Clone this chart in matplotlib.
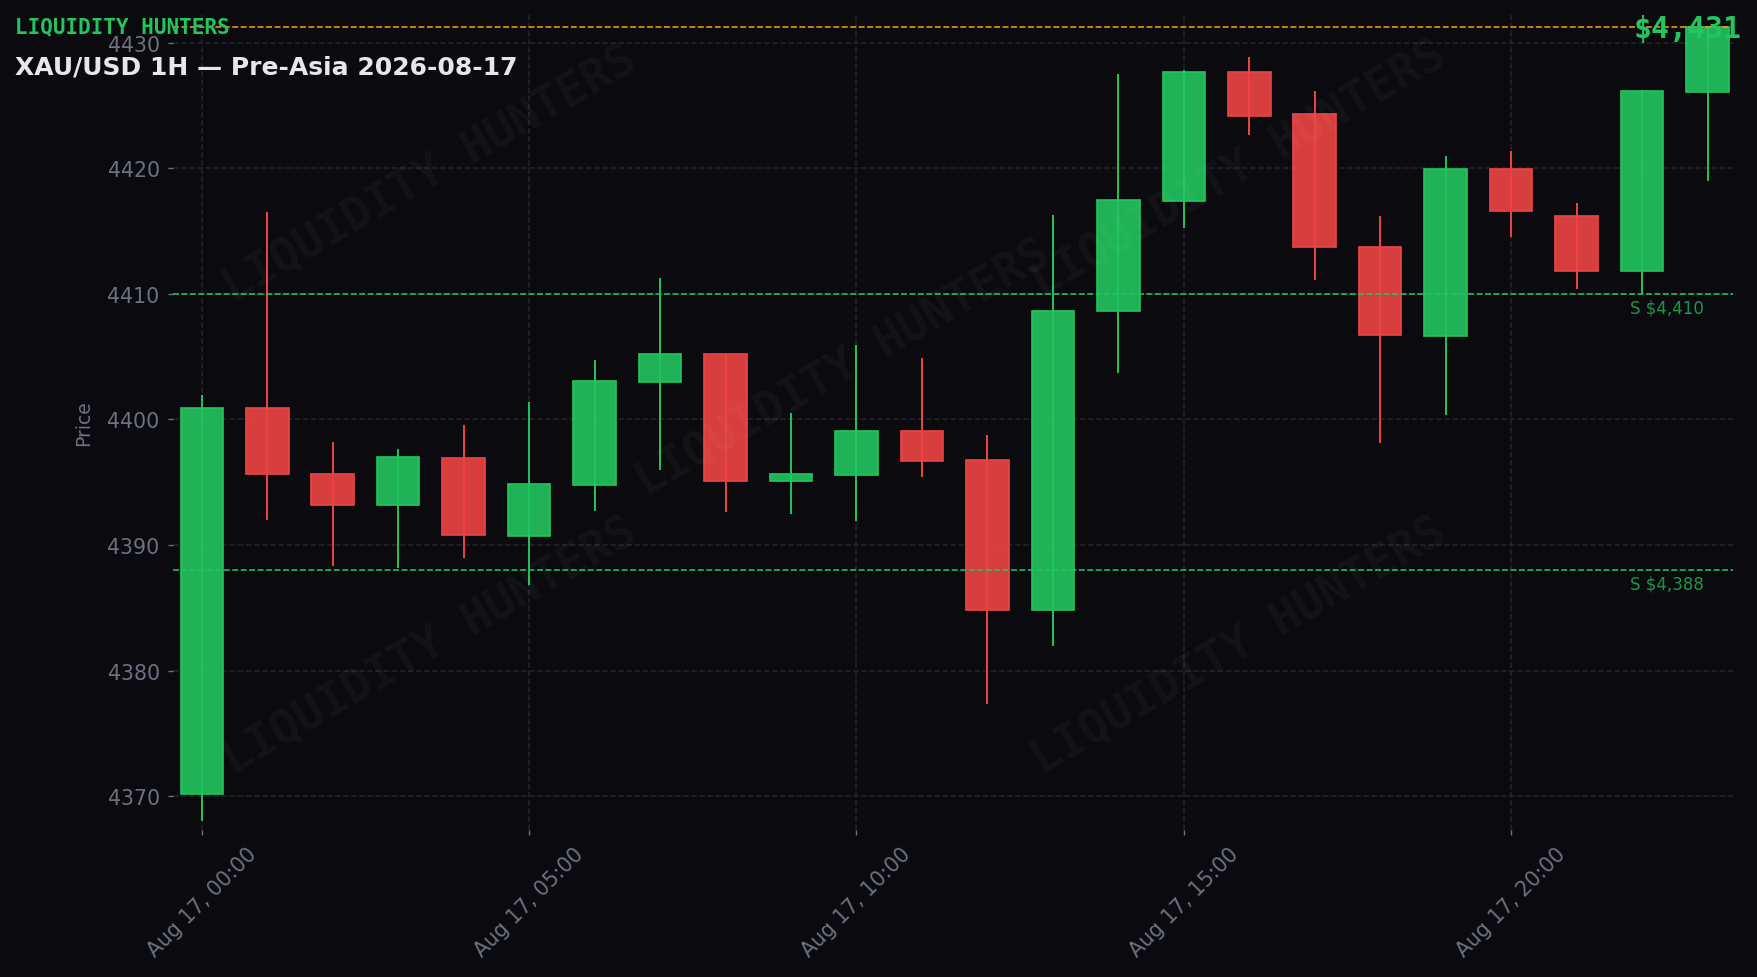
import matplotlib
matplotlib.use("Agg")
import matplotlib.pyplot as plt
import matplotlib.dates as mdates
import matplotlib.transforms as mtransforms
from matplotlib.colors import to_rgba
import pandas as pd
import numpy as np

# ---------------- data ----------------
times = pd.date_range("2026-08-17 00:00", periods=24, freq="h")
opens = [4370.20, 4400.93, 4395.67, 4393.15, 4396.95, 4390.70, 4394.75, 4403.00,
         4405.18, 4395.07, 4395.55, 4399.05, 4396.76, 4384.80, 4408.60, 4417.40,
         4427.64, 4424.30, 4413.75, 4406.65, 4419.92, 4416.17, 4411.80, 4426.10]
closes = [4400.93, 4395.62, 4393.15, 4397.03, 4390.77, 4394.83, 4403.05, 4405.18,
          4395.07, 4395.62, 4399.05, 4396.66, 4384.80, 4408.60, 4417.45, 4427.64,
          4424.14, 4413.70, 4406.70, 4419.96, 4416.57, 4411.79, 4426.15, 4431.25]
highs = [4401.94, 4416.50, 4398.20, 4397.64, 4399.55, 4401.38, 4404.73, 4411.26,
         4405.18, 4400.50, 4405.92, 4404.89, 4398.75, 4416.28, 4427.50, 4427.83,
         4428.86, 4426.15, 4416.20, 4420.98, 4421.37, 4417.23, 4426.23, 4431.25]
lows = [4368.06, 4392.00, 4388.34, 4388.18, 4388.98, 4386.83, 4392.72, 4395.99,
        4392.64, 4392.46, 4391.93, 4395.43, 4377.31, 4381.96, 4403.72, 4415.27,
        4422.65, 4411.10, 4398.14, 4400.37, 4414.55, 4410.38, 4409.98, 4419.00]
current_price = 4431.25
support_levels = [4410, 4388]
support_labels = ["S $4,410", "S $4,388"]
yticks = [4370, 4380, 4390, 4400, 4410, 4420, 4430]
title = "XAU/USD 1H \u2014 Pre-Asia 2026-08-17"
brand = "LIQUIDITY HUNTERS"
price_label = "$4,431"

# ---------------- style ----------------
BG = "#0b0b0f"
GREEN = "#22c55e"
RED = "#ef4444"
ORANGE = "#f59e0b"
GRAY = "#6b7280"
GRID = "#24242c"
MONO = "DejaVu Sans Mono"

fig = plt.figure(figsize=(17.58, 9.78), dpi=100, facecolor=BG)
ax = fig.add_axes([0.0984, 0.1503, 0.8874, 0.8333])
ax.set_facecolor(BG)

x = mdates.date2num(times)
o = np.array(opens); c = np.array(closes)
h = np.array(highs); l = np.array(lows)
up = c >= o
edge = [GREEN if u else RED for u in up]
face = [to_rgba(GREEN if u else RED, 0.9) for u in up]
w = 0.65 / 24

ax.vlines(x, l, h, colors=edge, linewidth=1.4, zorder=2)
ax.bar(x, c - o, bottom=o, width=w, color=face, edgecolor=edge,
       linewidth=1.2, zorder=3)

# levels
ax.axhline(current_price, color=ORANGE, linestyle="--", linewidth=1.15, zorder=4)
blend = mtransforms.blended_transform_factory(ax.transAxes, ax.transData)
for lv, lab in zip(support_levels, support_labels):
    ax.axhline(lv, color=GREEN, linestyle="--", linewidth=1.15, zorder=4)
    ax.annotate(lab, xy=(0.934, lv), xycoords=blend, xytext=(0, -3),
                textcoords="offset points", va="top", ha="left",
                color=GREEN, alpha=0.75, fontsize=12)

# axes formatting
x0 = mdates.date2num(times[0])
ax.set_xlim(x0 - 0.44 / 24, x0 + 23.39 / 24)
ax.set_ylim(4367.31, 4432.2)
ax.set_yticks(yticks)
ax.xaxis.set_major_locator(mdates.HourLocator(byhour=range(0, 24, 5)))
ax.xaxis.set_major_formatter(mdates.DateFormatter("%b %d, %H:%M"))
ax.grid(True, color=GRID, linestyle="--", linewidth=1.1, zorder=0)
ax.set_axisbelow(True)
for s in ax.spines.values():
    s.set_visible(False)
ax.tick_params(colors=GRAY, labelcolor=GRAY, labelsize=14.8, length=3.6,
               width=1.0, pad=6)
for t in ax.get_xticklabels():
    t.set_rotation(45)
    t.set_ha("center")
ax.set_ylabel("Price", color=GRAY, fontsize=13.5, labelpad=10)

# header texts
fig.text(0.0083, 0.9656, brand, family=MONO, fontweight="bold",
         fontsize=15, color=GREEN, ha="left", va="baseline")
fig.text(0.0083, 0.9243, title, fontweight="bold", fontsize=18,
         color="#e5e7eb", ha="left", va="baseline")
fig.text(0.9907, 0.9608, price_label, family=MONO, fontweight="bold",
         fontsize=21.5, color=GREEN, ha="right", va="baseline", zorder=10)

# watermarks
wm_pos = [(430, 174), (843, 368), (1239, 169), (430, 646), (1239, 646)]
for px, py in wm_pos:
    fig.text(px / 1758, 1 - py / 978, brand, family=MONO, fontweight="bold",
             fontsize=33, color="white", alpha=0.04, rotation=30,
             ha="center", va="center", rotation_mode="anchor", zorder=10)

fig.savefig("out.png", dpi=100, facecolor=BG)
